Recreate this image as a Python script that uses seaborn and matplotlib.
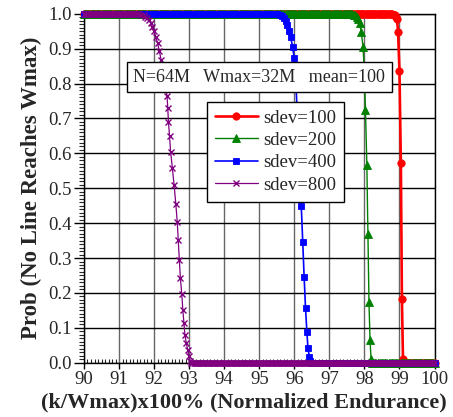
import numpy as np
import pandas as pd
import seaborn as sns
import matplotlib
matplotlib.use('Agg')
import matplotlib.pyplot as plt
from matplotlib.ticker import MultipleLocator, FormatStrFormatter

# sampling grid of k/Wmax (%) used for the flat parts of every curve
k_grid = np.linspace(90.0, 100.0, 321)
p_high = 1.0
p_low = 0.0

# transition parts
x_100 = [98.76, 98.80, 98.84, 98.87, 98.90, 98.93, 98.96, 99.00, 99.04, 99.07, 99.10]
p_100 = [0.999, 0.998, 0.997, 0.995, 0.991, 0.985, 0.948, 0.837, 0.571, 0.183, 0.012]

x_200 = [97.62, 97.66, 97.70, 97.74, 97.78, 97.82, 97.86, 97.91, 97.96, 98.00, 98.03,
         98.07, 98.10, 98.13, 98.16, 98.19]
p_200 = [0.999, 0.998, 0.997, 0.995, 0.992, 0.986, 0.972, 0.948, 0.906, 0.830, 0.725,
         0.566, 0.368, 0.175, 0.065, 0.012]

x_400 = [95.46, 95.52, 95.58, 95.64, 95.70, 95.75, 95.80, 95.85, 95.90, 95.95, 96.00,
         96.05, 96.10, 96.15, 96.20, 96.24, 96.28, 96.32, 96.36, 96.39, 96.43, 96.46]
p_400 = [0.999, 0.998, 0.996, 0.993, 0.988, 0.980, 0.968, 0.950, 0.932, 0.905, 0.873,
         0.790, 0.680, 0.570, 0.449, 0.347, 0.247, 0.156, 0.087, 0.041, 0.017, 0.005]

x_800 = [91.52, 91.58, 91.64, 91.70, 91.75, 91.80, 91.85, 91.90, 91.95, 92.00, 92.05,
         92.10, 92.15, 92.20, 92.25, 92.30, 92.34, 92.37, 92.39, 92.41, 92.44, 92.47,
         92.52, 92.57, 92.62, 92.66, 92.69, 92.72, 92.75, 92.79, 92.82, 92.85, 92.88,
         92.92, 92.96, 93.00, 93.03]
p_800 = [0.999, 0.998, 0.997, 0.995, 0.992, 0.988, 0.982, 0.974, 0.963, 0.950, 0.934,
         0.915, 0.893, 0.868, 0.840, 0.810, 0.785, 0.763, 0.730, 0.689, 0.650, 0.605,
         0.559, 0.510, 0.455, 0.404, 0.352, 0.295, 0.242, 0.197, 0.151, 0.115, 0.079,
         0.056, 0.036, 0.018, 0.006]

labels = ['sdev=100', 'sdev=200', 'sdev=400', 'sdev=800']
colors = ['#ff0000', '#008000', '#0000ff', '#800080']
markers = ['o', '^', 's', 'x']


def full_curve(xs, ps):
    hi = k_grid[k_grid < xs[0] - 0.01]
    lo = k_grid[k_grid > xs[-1] + 0.01]
    x = np.concatenate([hi, xs, lo])
    p = np.concatenate([np.full(len(hi), p_high), ps, np.full(len(lo), p_low)])
    return pd.DataFrame({'k': x, 'prob': p})


sns.set_style('ticks')
plt.rcParams['font.family'] = ['Liberation Serif', 'DejaVu Serif']

fig = plt.figure(figsize=(4.53, 4.17), dpi=100)
ax = fig.add_axes([0.1854, 0.1302, 0.7738, 0.8369])

series = [(x_100, p_100), (x_200, p_200), (x_400, p_400), (x_800, p_800)]
lws = [1.9, 1.0, 1.2, 0.9]
msizes = [5.3, 5.8, 5.0, 4.8]
mews = [0.6, 0.6, 0.6, 1.0]
for (xs, ps), lab, c, m, lw, ms, mew in zip(series, labels, colors, markers, lws, msizes, mews):
    df = full_curve(xs, ps)
    sns.lineplot(data=df, x='k', y='prob', ax=ax, color=c, marker=m, markersize=ms,
                 markeredgecolor=c, markerfacecolor=c, markeredgewidth=mew,
                 linewidth=lw, label=lab, estimator=None, errorbar=None,
                 clip_on=False, zorder=3)

ax.set_xlim(90, 100)
ax.set_ylim(0, 1.0)
ax.xaxis.set_major_locator(MultipleLocator(1))
ax.xaxis.set_minor_locator(MultipleLocator(0.1))
ax.yaxis.set_major_locator(MultipleLocator(0.1))
ax.yaxis.set_minor_locator(MultipleLocator(0.01))
ax.yaxis.set_major_formatter(FormatStrFormatter('%.1f'))
ax.xaxis.set_major_formatter(FormatStrFormatter('%d'))

ax.tick_params(axis='both', which='major', labelsize=13.5, width=1, color='black')
ax.tick_params(axis='x', which='major', direction='out', length=4, pad=2)
ax.tick_params(axis='x', which='minor', direction='in', length=3, width=0.8)
ax.tick_params(axis='y', which='major', direction='out', length=7, pad=2)
ax.tick_params(axis='y', which='minor', direction='out', length=3.5, width=0.8)

ax.xaxis.grid(True, which='major', color='0.4', linewidth=1.0)
ax.yaxis.grid(True, which='major', color='black', linewidth=1.0)
ax.set_axisbelow(True)
for sp in ax.spines.values():
    sp.set_color('black')
    sp.set_linewidth(1.0)

# x label nudged left so the whole text stays inside the figure
ax.set_xlabel('(k/Wmax)x100% (Normalized Endurance)', fontsize=16,
              fontweight='bold', labelpad=2)
ax.xaxis.set_label_coords(0.455, -0.085)
ax.set_ylabel('Prob (No Line Reaches Wmax)', fontsize=16.5, fontweight='bold',
              labelpad=4)

ax.text(95.0, 0.818, 'N=64M   Wmax=32M   mean=100', fontsize=13,
        ha='center', va='center', zorder=6,
        bbox=dict(boxstyle='square,pad=0.36', fc='white', ec='black', lw=1.0))

handles, labs = ax.get_legend_handles_labels()
leg = ax.legend(handles, labs, loc='upper left', bbox_to_anchor=(0.35, 0.748),
                fontsize=13.5, frameon=True, fancybox=False, framealpha=1,
                edgecolor='black', handlelength=2.3, handletextpad=0.3,
                labelspacing=0.28, borderpad=0.42, borderaxespad=0)
leg.get_frame().set_linewidth(1.0)
leg.set_zorder(6)

fig.savefig('out.png', dpi=100)
